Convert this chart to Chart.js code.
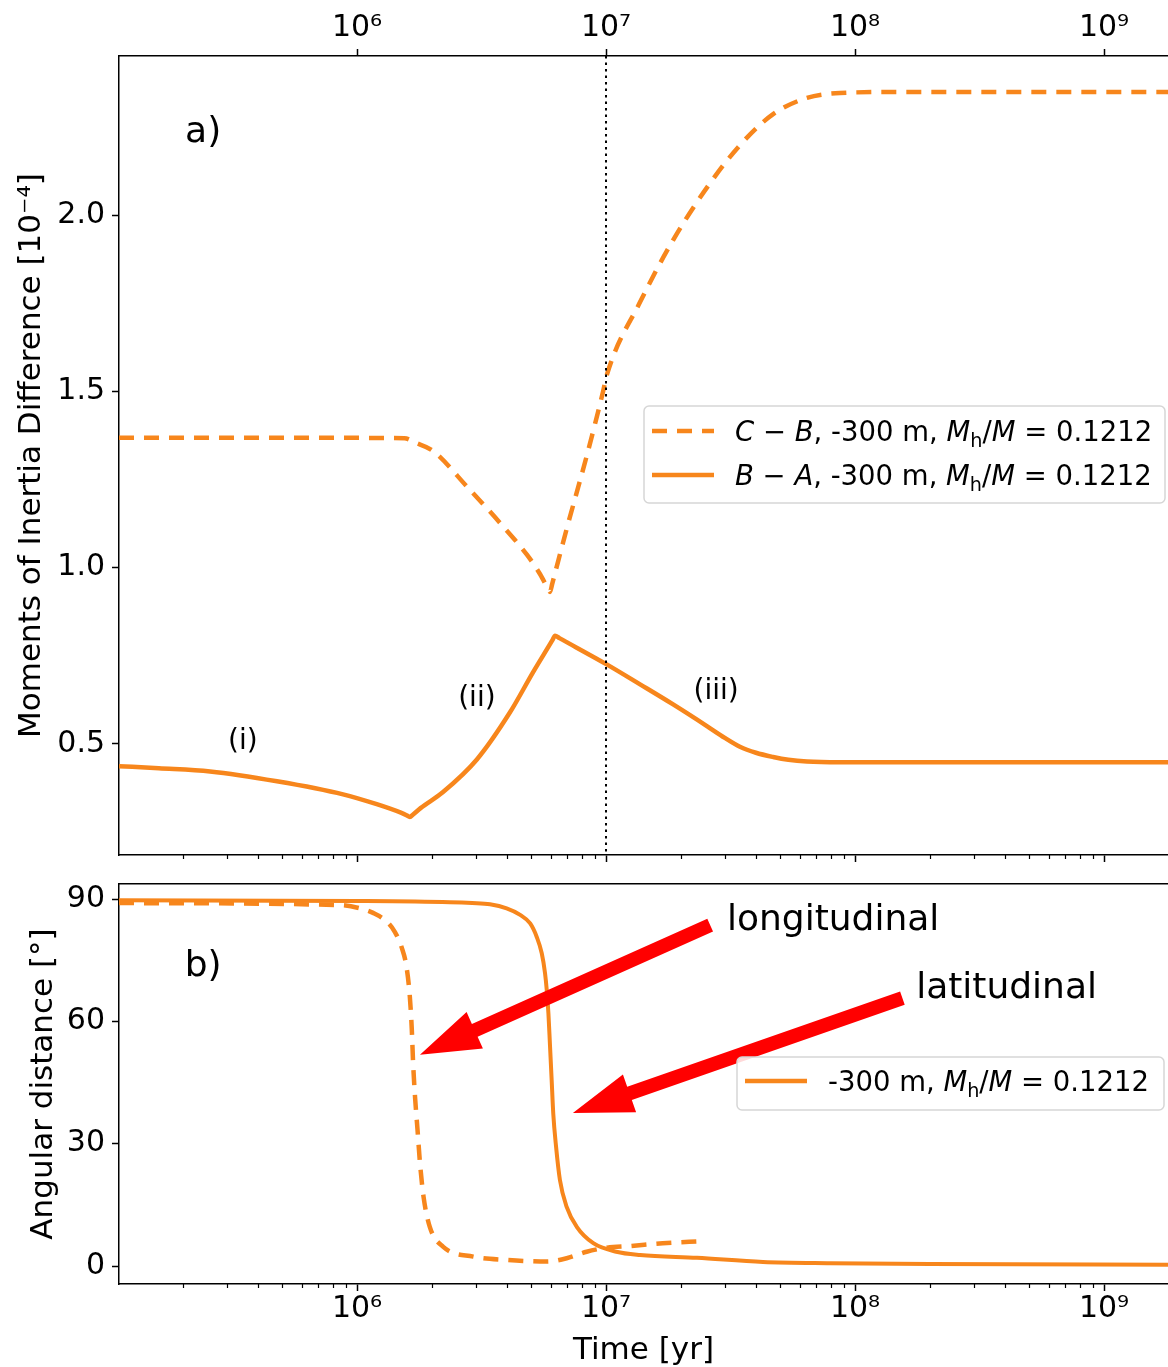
<!DOCTYPE html>
<html><head><meta charset="utf-8">
<script src="https://cdn.jsdelivr.net/npm/chart.js@4.4.0/dist/chart.umd.min.js"></script>
<style>
html,body{margin:0;padding:0;background:#fff;}
#wrap{position:relative;width:1168px;height:1367px;overflow:hidden;background:#fff;}
canvas{position:absolute;left:0;}
#c1{top:0;} #c2{top:870px;}
</style></head><body>
<div id="wrap"><canvas id="c1" width="1168" height="870"></canvas><canvas id="c2" width="1168" height="497"></canvas></div>
<script>
// ---------- axis ranges & ticks ----------
const xRange = [1.107e5, 1.807e9];
const xMajorTicks = [1e6, 1e7, 1e8, 1e9];
const yTopRange = [0.185, 2.451];
const yTopTicks = [0.5, 1.0, 1.5, 2.0];
const yBotRange = [-4.41, 93.68];
const yBotTicks = [0, 30, 60, 90];
const markerTime = 1e7;

// ---------- panel a) : C-B (dashed) ----------
const timeCB  = [1.107e5, 1.0e6, 1.55e6, 1.72e6, 2.02e6, 2.77e6, 3.75e6, 4.82e6, 5.43e6, 5.85e6, 5.96e6, 6.08e6, 6.97e6, 8.39e6, 9.72e6, 1.01e7, 1.37e7, 1.86e7, 2.55e7, 3.45e7, 4.69e7, 6.41e7, 8.7e7, 1.52e8, 1.807e9];
const valueCB = [1.368, 1.368, 1.367, 1.354, 1.331, 1.229, 1.127, 1.036, 0.982, 0.940, 0.931, 0.954, 1.113, 1.320, 1.498, 1.549, 1.753, 1.929, 2.079, 2.198, 2.286, 2.332, 2.346, 2.349, 2.349];
// ---------- panel a) : B-A (solid) ----------
const timeBA  = [1.107e5, 1.6e5, 2.57e5, 4.77e5, 8.79e5, 1.2e6, 1.5e6, 1.58e6, 1.63e6, 1.68e6, 1.8e6, 2.21e6, 3.03e6, 4.11e6, 5.09e6, 5.9e6, 6.1e6, 6.24e6, 6.5e6, 1.01e7, 1.37e7, 1.86e7, 2.55e7, 3.0e7, 3.45e7, 4.0e7, 4.69e7, 5.4e7, 6.41e7, 8.7e7, 1.807e9];
const valueBA = [0.437, 0.431, 0.422, 0.394, 0.357, 0.329, 0.305, 0.298, 0.293, 0.300, 0.318, 0.363, 0.456, 0.589, 0.703, 0.778, 0.795, 0.807, 0.800, 0.725, 0.669, 0.612, 0.550, 0.517, 0.492, 0.475, 0.463, 0.455, 0.450, 0.448, 0.448];

// ---------- panel b) : longitudinal (dashed) ----------
const timeLong  = [1.107e5, 8.55e5, 1.03e6, 1.16e6, 1.32e6, 1.42e6, 1.51e6, 1.58e6, 1.63e6, 1.66e6, 1.68e6, 1.71e6, 1.75e6, 1.79e6, 1.85e6, 1.96e6, 2.22e6, 2.93e6, 3.99e6, 5.78e6, 6.95e6, 8.36e6, 1.01e7, 1.25e7, 1.69e7, 2.45e7];
const angleLong = [89.0, 88.5, 87.7, 86.6, 84.4, 81.9, 78.2, 73.4, 66.0, 57.9, 49.8, 41.5, 33.4, 25.3, 17.0, 9.6, 4.7, 2.3, 1.5, 1.1, 1.9, 3.5, 4.5, 4.9, 5.6, 6.1];
// ---------- panel b) : latitudinal (solid) ----------
const timeLat  = [1.107e5, 1.0e6, 2.36e6, 2.9e6, 3.42e6, 3.99e6, 4.52e6, 4.96e6, 5.27e6, 5.52e6, 5.69e6, 5.78e6, 5.87e6, 5.96e6, 6.05e6, 6.14e6, 6.30e6, 6.53e6, 6.95e6, 7.63e6, 8.89e6, 1.10e7, 1.37e7, 2.32e7, 4.27e7, 7.94e7, 2.0e8, 1.807e9];
const angleLat = [89.7, 89.5, 89.2, 89.0, 88.7, 87.7, 86.1, 84.0, 80.7, 76.7, 71.8, 67.7, 62.0, 53.8, 45.6, 37.4, 29.3, 21.1, 14.5, 9.6, 5.6, 3.5, 2.7, 2.0, 1.0, 0.7, 0.5, 0.3];

// ---------- annotations (data coordinates) ----------
const notesTop = [
  {text: 'a)',    x: 2.41e5, y: 2.235, size: 36},
  {text: '(i)',   x: 3.48e5, y: 0.505, size: 28},
  {text: '(ii)',  x: 3.03e6, y: 0.627, size: 28},
  {text: '(iii)', x: 2.77e7, y: 0.647, size: 28}
];
const notesBot = [
  {text: 'b)',           x: 2.41e5, y: 73.3, size: 36},
  {text: 'longitudinal', x: 3.06e7, y: 84.8, size: 36, align: 'left'},
  {text: 'latitudinal',  x: 1.76e8, y: 68.1, size: 36, align: 'left'}
];
const arrowsBot = [
  {from: [2.62e7, 83.6], to: [1.79e6, 51.8]},
  {from: [1.55e8, 65.7], to: [7.36e6, 37.5]}
];

// ---------- styling ----------
const ORANGE = '#f7861c';
const FONT = "'DejaVu Sans', sans-serif";
const supMap = {'0':'⁰','1':'¹','2':'²','3':'³','4':'⁴','5':'⁵','6':'⁶','7':'⁷','8':'⁸','9':'⁹','-':'⁻'};
function powLabel(v){ const e = Math.round(Math.log10(v)); return '10' + String(e).split('').map(c => supMap[c]).join(''); }
function pts(ts, vs){ return ts.map((t, i) => ({x: t, y: vs[i]})); }
function fixBox(size){
  return function(s){
    if (s.isHorizontal()) s.height = size; else s.width = size;
    s.paddingTop = 0; s.paddingBottom = 0; s.paddingLeft = 0; s.paddingRight = 0;
  };
}
function setTicks(list){ return function(s){ s.ticks = list.map(v => ({value: v})); }; }

// ---------- plugins ----------
const minorTicks = {
  id: 'minorTicks',
  afterDraw(chart, args, opts){
    const ctx = chart.ctx;
    (opts.axes || []).forEach(id => {
      const s = chart.scales[id];
      ctx.save(); ctx.strokeStyle = '#000'; ctx.lineWidth = 1.2;
      for (let e = Math.floor(Math.log10(s.min)); e <= Math.ceil(Math.log10(s.max)); e++){
        for (let m = 2; m <= 9; m++){
          const v = m * Math.pow(10, e);
          if (v < s.min || v > s.max) continue;
          const x = Math.round(s.getPixelForValue(v)) + 0.5;
          const y0 = s.position === 'bottom' ? s.top : s.bottom;
          const dir = s.position === 'bottom' ? 1 : -1;
          ctx.beginPath(); ctx.moveTo(x, y0); ctx.lineTo(x, y0 + dir * 4); ctx.stroke();
        }
      }
      ctx.restore();
    });
  }
};
const vLine = {
  id: 'vLine',
  afterDatasetsDraw(chart, args, opts){
    if (opts.value == null) return;
    const ctx = chart.ctx, a = chart.chartArea;
    const x = chart.scales.x.getPixelForValue(opts.value);
    ctx.save(); ctx.strokeStyle = '#000'; ctx.lineWidth = 2; ctx.setLineDash([2.5, 4]);
    ctx.beginPath(); ctx.moveTo(x, a.top); ctx.lineTo(x, a.bottom); ctx.stroke(); ctx.restore();
  }
};
const arrows = {
  id: 'arrows',
  afterDatasetsDraw(chart, args, opts){
    const ctx = chart.ctx, sx = chart.scales.x, sy = chart.scales.y;
    (opts.items || []).forEach(ar => {
      const x0 = sx.getPixelForValue(ar.from[0]), y0 = sy.getPixelForValue(ar.from[1]);
      const x1 = sx.getPixelForValue(ar.to[0]),   y1 = sy.getPixelForValue(ar.to[1]);
      const dx = x1 - x0, dy = y1 - y0, L = Math.hypot(dx, dy);
      const ux = dx / L, uy = dy / L, nx = -uy, ny = ux;
      const sw = 7, hw = 20, hl = 60;
      const bx = x1 - ux * hl, by = y1 - uy * hl;
      ctx.save(); ctx.fillStyle = '#ff0000';
      ctx.beginPath();
      ctx.moveTo(x0 + nx * sw, y0 + ny * sw);
      ctx.lineTo(bx + nx * sw, by + ny * sw);
      ctx.lineTo(bx + nx * hw, by + ny * hw);
      ctx.lineTo(x1, y1);
      ctx.lineTo(bx - nx * hw, by - ny * hw);
      ctx.lineTo(bx - nx * sw, by - ny * sw);
      ctx.lineTo(x0 - nx * sw, y0 - ny * sw);
      ctx.closePath(); ctx.fill(); ctx.restore();
    });
  }
};
const notes = {
  id: 'notes',
  afterDatasetsDraw(chart, args, opts){
    const ctx = chart.ctx, sx = chart.scales.x, sy = chart.scales.y;
    (opts.items || []).forEach(n => {
      ctx.save(); ctx.fillStyle = '#000';
      ctx.font = n.size + 'px ' + FONT;
      ctx.textAlign = n.align || 'center'; ctx.textBaseline = 'middle';
      ctx.fillText(n.text, sx.getPixelForValue(n.x), sy.getPixelForValue(n.y));
      ctx.restore();
    });
  }
};
function drawRich(ctx, x, y, segs, size){
  segs.forEach(sg => {
    let fs = size, dy = 0, style = '';
    if (sg.s === 'i') style = 'italic ';
    if (sg.s === 'sub'){ fs = size * 0.7; dy = size * 0.22; }
    ctx.font = style + fs + 'px ' + FONT;
    ctx.fillText(sg.t, x, y + dy);
    x += ctx.measureText(sg.t).width;
  });
}
const richLegend = {
  id: 'richLegend',
  afterDraw(chart, args, opts){
    if (!opts.box) return;
    const ctx = chart.ctx, b = opts.box;
    ctx.save();
    ctx.beginPath(); ctx.roundRect(b.x, b.y, b.w, b.h, 5);
    ctx.fillStyle = 'rgba(255,255,255,0.85)'; ctx.fill();
    ctx.strokeStyle = '#d6d6d6'; ctx.lineWidth = 1.5; ctx.stroke();
    opts.entries.forEach((en, i) => {
      const cy = b.y + opts.first + i * opts.step;
      ctx.strokeStyle = ORANGE; ctx.lineWidth = 4.5; ctx.lineCap = 'butt';
      ctx.setLineDash(en.dash ? [15, 10] : []);
      ctx.beginPath(); ctx.moveTo(b.x + 8, cy); ctx.lineTo(b.x + 70, cy); ctx.stroke();
      ctx.setLineDash([]);
      ctx.fillStyle = '#000'; ctx.textBaseline = 'alphabetic'; ctx.textAlign = 'left';
      drawRich(ctx, b.x + opts.textDx, cy + 10, en.segs, 27.5);
    });
    ctx.restore();
  }
};

const mhSegs = [{t: ', -300 m, '}, {t: 'M', s: 'i'}, {t: 'h', s: 'sub'}, {t: '/'}, {t: 'M', s: 'i'}, {t: ' = '}, {t: '0.1212'}];

function xAxis(pos, opts){
  return Object.assign({
    type: 'logarithmic', position: pos, min: xRange[0], max: xRange[1],
    afterBuildTicks: setTicks(xMajorTicks),
    ticks: {display: true, autoSkip: false, maxRotation: 0, minRotation: 0, color: '#000', font: {family: FONT, size: 30}, padding: 3, callback: v => powLabel(v)},
    grid: {drawOnChartArea: false, drawTicks: true, tickLength: 7, tickWidth: 1.5, tickColor: '#000'},
    border: {display: true, color: '#000', width: 1.5}
  }, opts);
}

// ---------- chart a) ----------
new Chart(document.getElementById('c1'), {
  type: 'line',
  data: {datasets: [
    {label: 'C − B', data: pts(timeCB, valueCB), borderColor: ORANGE, borderWidth: 4.5, borderDash: [15, 10], pointRadius: 0, cubicInterpolationMode: 'monotone', fill: false},
    {label: 'B − A', data: pts(timeBA, valueBA), borderColor: ORANGE, borderWidth: 4.5, pointRadius: 0, cubicInterpolationMode: 'monotone', fill: false}
  ]},
  options: {
    responsive: false, animation: false, devicePixelRatio: 1,
    layout: {padding: 0},
    plugins: {
      legend: {display: false}, tooltip: {enabled: false},
      minorTicks: {axes: ['x']},
      vLine: {value: markerTime},
      notes: {items: notesTop},
      richLegend: {box: {x: 644, y: 406, w: 521, h: 97}, first: 25, step: 44, textDx: 91, entries: [
        {dash: true,  segs: [{t: 'C', s: 'i'}, {t: ' − '}, {t: 'B', s: 'i'}].concat(mhSegs)},
        {dash: false, segs: [{t: 'B', s: 'i'}, {t: ' − '}, {t: 'A', s: 'i'}].concat(mhSegs)}
      ]}
    },
    scales: {
      x: xAxis('bottom', {afterFit: fixBox(15), ticks: {display: false}}),
      xTop: xAxis('top', {afterFit: fixBox(56)}),
      y: {
        type: 'linear', position: 'left', min: yTopRange[0], max: yTopRange[1],
        afterBuildTicks: setTicks(yTopTicks), afterFit: fixBox(119),
        ticks: {color: '#000', font: {family: FONT, size: 30}, padding: 7, callback: v => v.toFixed(1)},
        grid: {drawOnChartArea: false, drawTicks: true, tickLength: 7, tickWidth: 1.5, tickColor: '#000'},
        border: {display: true, color: '#000', width: 1.5},
        title: {display: true, text: 'Moments of Inertia Difference [10⁻⁴]', color: '#000', font: {family: FONT, size: 31}, padding: {top: 13, bottom: 0}}
      }
    }
  },
  plugins: [minorTicks, vLine, notes, richLegend]
});

// ---------- chart b) ----------
new Chart(document.getElementById('c2'), {
  type: 'line',
  data: {datasets: [
    {label: 'longitudinal', data: pts(timeLong, angleLong), borderColor: ORANGE, borderWidth: 4.5, borderDash: [15, 10], pointRadius: 0, cubicInterpolationMode: 'monotone', fill: false},
    {label: 'latitudinal', data: pts(timeLat, angleLat), borderColor: ORANGE, borderWidth: 4, pointRadius: 0, cubicInterpolationMode: 'monotone', fill: false}
  ]},
  options: {
    responsive: false, animation: false, devicePixelRatio: 1,
    layout: {padding: 0},
    plugins: {
      legend: {display: false}, tooltip: {enabled: false},
      minorTicks: {axes: ['x']},
      arrows: {items: arrowsBot},
      notes: {items: notesBot},
      richLegend: {box: {x: 737, y: 187, w: 427, h: 53}, first: 24, step: 44, textDx: 91, entries: [
        {dash: false, segs: [{t: '-300 m, '}, {t: 'M', s: 'i'}, {t: 'h', s: 'sub'}, {t: '/'}, {t: 'M', s: 'i'}, {t: ' = '}, {t: '0.1212'}]}
      ]}
    },
    scales: {
      x: xAxis('bottom', {afterFit: fixBox(83),
        ticks: {display: true, autoSkip: false, maxRotation: 0, minRotation: 0, color: '#000', font: {family: FONT, size: 30}, padding: 0, callback: v => powLabel(v)},
        title: {display: true, text: 'Time [yr]', color: '#000', font: {family: FONT, size: 31}, padding: {top: 0, bottom: -3}}}),
      xTop: xAxis('top', {afterFit: fixBox(14), ticks: {display: false}, grid: {drawOnChartArea: false, drawTicks: false}}),
      y: {
        type: 'linear', position: 'left', min: yBotRange[0], max: yBotRange[1],
        afterBuildTicks: setTicks(yBotTicks), afterFit: fixBox(119),
        ticks: {color: '#000', font: {family: FONT, size: 30}, padding: 7, callback: v => String(v)},
        grid: {drawOnChartArea: false, drawTicks: true, tickLength: 7, tickWidth: 1.5, tickColor: '#000'},
        border: {display: true, color: '#000', width: 1.5},
        title: {display: true, text: 'Angular distance [°]', color: '#000', font: {family: FONT, size: 31}, padding: {top: 25, bottom: 0}}
      }
    }
  },
  plugins: [minorTicks, arrows, notes, richLegend]
});
</script>
</body></html>
